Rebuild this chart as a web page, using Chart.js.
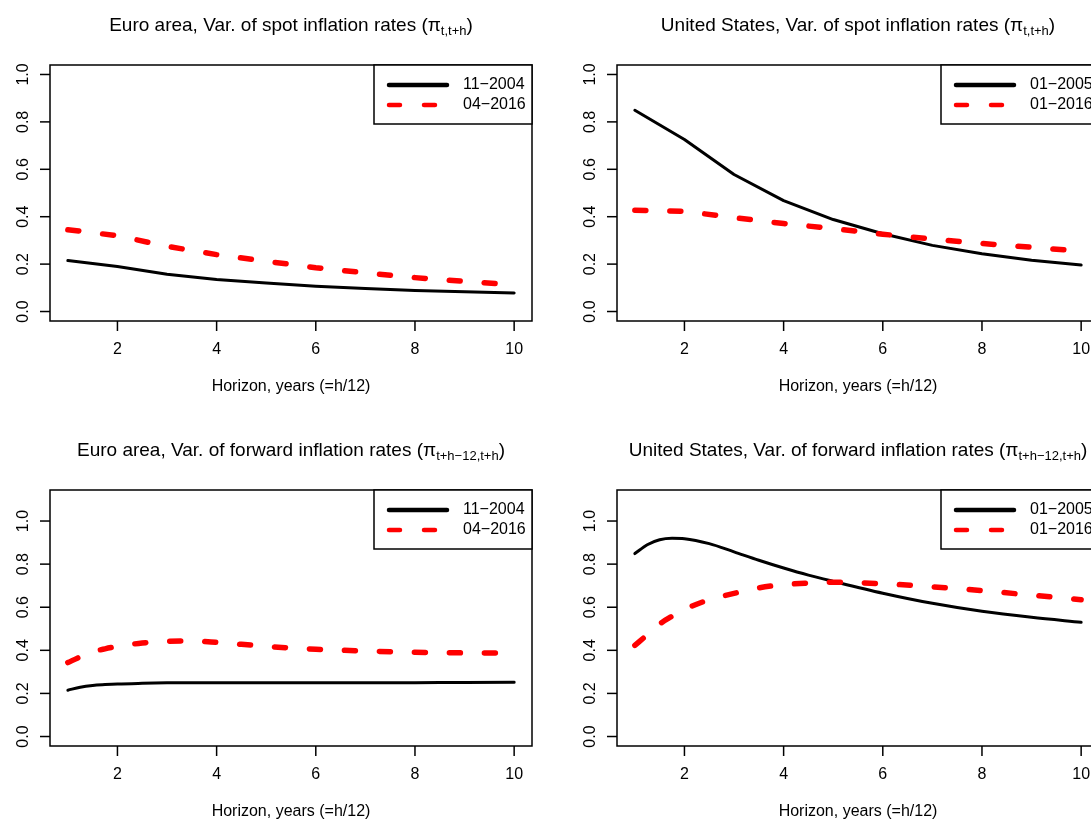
<!DOCTYPE html>
<html>
<head>
<meta charset="utf-8">
<script src="https://cdn.jsdelivr.net/npm/chart.js@4.4.1/dist/chart.umd.min.js"></script>
<style>
  html, body { margin: 0; padding: 0; background: #fff; overflow: hidden; width: 1091px; height: 820px; }
  #wrap { position: relative; width: 1135px; height: 850px; }
  .panel { position: absolute; width: 567px; height: 425px; }
</style>
</head>
<body>
<div id="wrap">
  <div class="panel" style="left:0;top:0"><canvas id="euSpot" width="567" height="425"></canvas></div>
  <div class="panel" style="left:567px;top:0"><canvas id="usSpot" width="567" height="425"></canvas></div>
  <div class="panel" style="left:0;top:425px"><canvas id="euFwd" width="567" height="425"></canvas></div>
  <div class="panel" style="left:567px;top:425px"><canvas id="usFwd" width="567" height="425"></canvas></div>
</div>
<script>
'use strict';

// horizons in years (=h/12)
const yearsSpot = [1, 2, 3, 4, 5, 6, 7, 8, 9, 10];
const yearsFwd = [1, 1.25, 1.5, 1.75, 2, 2.5, 3, 3.5, 4, 4.5, 5, 6, 7, 8, 9, 10];

// variances
const euSpot2004 = [0.215, 0.19, 0.157, 0.135, 0.12, 0.107, 0.097, 0.089, 0.083, 0.078];
const euSpot2016 = [0.345, 0.32, 0.275, 0.24, 0.212, 0.185, 0.163, 0.143, 0.127, 0.113];
const usSpot2005 = [0.849, 0.726, 0.578, 0.468, 0.388, 0.328, 0.279, 0.244, 0.216, 0.196];
const usSpot2016 = [0.427, 0.423, 0.396, 0.371, 0.35, 0.326, 0.306, 0.287, 0.271, 0.255];

const euFwd2004 = [0.215, 0.229, 0.237, 0.241, 0.244, 0.247, 0.249, 0.25, 0.25, 0.25, 0.25, 0.249, 0.249, 0.25, 0.251, 0.252];
const euFwd2016 = [0.343, 0.37, 0.393, 0.407, 0.418, 0.434, 0.442, 0.443, 0.437, 0.428, 0.418, 0.405, 0.397, 0.391, 0.388, 0.387];
const usFwd2005 = [0.849, 0.89, 0.913, 0.92, 0.918, 0.895, 0.857, 0.818, 0.782, 0.749, 0.72, 0.665, 0.618, 0.581, 0.553, 0.53];
const usFwd2016 = [0.423, 0.472, 0.522, 0.558, 0.59, 0.635, 0.664, 0.69, 0.705, 0.712, 0.716, 0.709, 0.695, 0.677, 0.656, 0.635];

const euLabels = ['11\u22122004', '04\u22122016'];
const usLabels = ['01\u22122005', '01\u22122016'];

const xTicks = [2, 4, 6, 8, 10];
const yTicks = [0, 0.2, 0.4, 0.6, 0.8, 1.0];

const xLabel = 'Horizon, years (=h/12)';
const subSpot = 't,t+h';
const subFwd = 't+h\u221212,t+h';

const FONT = '"Liberation Sans", Arial, Helvetica, sans-serif';

function pts(xs, ys) {
  return xs.map((x, i) => ({ x: x, y: ys[i] }));
}

// R-like frame, axes, title and legend
const rFrame = {
  id: 'rFrame',
  afterDraw(chart) {
    const ctx = chart.ctx;
    const a = chart.chartArea;
    const xs = chart.scales.x, ys = chart.scales.y;
    const o = chart.options.plugins.rFrame;
    ctx.save();
    ctx.strokeStyle = '#000';
    ctx.fillStyle = '#000';
    ctx.lineWidth = 1.5;
    ctx.strokeRect(a.left, a.top, a.right - a.left, a.bottom - a.top);

    ctx.font = '16px ' + FONT;
    ctx.textAlign = 'center';
    ctx.textBaseline = 'middle';
    xTicks.forEach(v => {
      const px = xs.getPixelForValue(v);
      ctx.beginPath(); ctx.moveTo(px, a.bottom); ctx.lineTo(px, a.bottom + 10); ctx.stroke();
      ctx.fillText(String(v), px, a.bottom + 29);
    });
    yTicks.forEach(v => {
      const py = ys.getPixelForValue(v);
      ctx.beginPath(); ctx.moveTo(a.left, py); ctx.lineTo(a.left - 10, py); ctx.stroke();
      ctx.save();
      ctx.translate(a.left - 26, py);
      ctx.rotate(-Math.PI / 2);
      ctx.fillText(v.toFixed(1), 0, 0);
      ctx.restore();
    });

    // x axis title
    const cx = (a.left + a.right) / 2;
    ctx.fillText(xLabel, cx, a.bottom + 66);

    // main title with subscript
    const mainFont = '19px ' + FONT, subFont = '13px ' + FONT;
    ctx.font = mainFont;
    const w1 = ctx.measureText(o.title + ' (\u03c0').width;
    const w3 = ctx.measureText(')').width;
    ctx.font = subFont;
    const w2 = ctx.measureText(o.sub).width;
    let tx = cx - (w1 + w2 + w3) / 2;
    ctx.textAlign = 'left';
    ctx.textBaseline = 'alphabetic';
    ctx.font = mainFont;
    ctx.fillText(o.title + ' (\u03c0', tx, 31);
    tx += w1;
    ctx.font = subFont;
    ctx.fillText(o.sub, tx, 35);
    tx += w2;
    ctx.font = mainFont;
    ctx.fillText(')', tx, 31);

    // legend box in the top right corner
    const lx = a.right - 158, lh = 59;
    ctx.lineWidth = 1.5;
    ctx.fillStyle = '#fff';
    ctx.fillRect(lx, a.top, a.right - lx, lh);
    ctx.strokeRect(lx, a.top, a.right - lx, lh);
    ctx.font = '16px ' + FONT;
    ctx.textBaseline = 'middle';
    const sets = chart.data.datasets;
    [0, 1].forEach(i => {
      const ds = sets[i];
      const ly = a.top + 20 + i * 20;
      ctx.save();
      ctx.strokeStyle = ds.borderColor;
      ctx.lineWidth = 4.5;
      ctx.lineCap = 'round';
      ctx.setLineDash(ds.borderDash || []);
      ctx.beginPath(); ctx.moveTo(lx + 15, ly); ctx.lineTo(lx + 73, ly); ctx.stroke();
      ctx.restore();
      ctx.fillStyle = '#000';
      ctx.fillText(ds.label, lx + 89, ly);
    });
    ctx.restore();
  }
};

function makeChart(id, xs, blackY, redY, labels, title, sub, yMax) {
  const ctx = document.getElementById(id).getContext('2d');
  return new Chart(ctx, {
    type: 'line',
    data: {
      datasets: [{
        label: labels[0],
        data: pts(xs, blackY),
        borderColor: '#000000',
        borderWidth: 3,
        borderCapStyle: 'round',
        borderJoinStyle: 'round',
        pointRadius: 0,
        fill: false,
        cubicInterpolationMode: xs.length > 10 ? 'monotone' : 'default',
        tension: 0,
        order: 2
      }, {
        label: labels[1],
        data: pts(xs, redY),
        borderColor: '#ff0000',
        borderWidth: 5.5,
        borderDash: [11, 24],
        borderCapStyle: 'round',
        borderJoinStyle: 'round',
        pointRadius: 0,
        fill: false,
        cubicInterpolationMode: xs.length > 10 ? 'monotone' : 'default',
        tension: 0,
        order: 1
      }]
    },
    options: {
      responsive: false,
      animation: false,
      events: [],
      layout: { padding: { left: 50, right: 35, top: 65, bottom: 104 } },
      scales: {
        x: { type: 'linear', min: 0.64, max: 10.36, display: false },
        y: { type: 'linear', min: -0.04 * yMax, max: 1.04 * yMax, display: false }
      },
      plugins: {
        legend: { display: false },
        tooltip: { enabled: false },
        rFrame: { title: title, sub: sub }
      }
    },
    plugins: [rFrame]
  });
}

makeChart('euSpot', yearsSpot, euSpot2004, euSpot2016, euLabels,
  'Euro area, Var. of spot inflation rates', subSpot, 1.0);
makeChart('usSpot', yearsSpot, usSpot2005, usSpot2016, usLabels,
  'United States, Var. of spot inflation rates', subSpot, 1.0);
makeChart('euFwd', yearsFwd, euFwd2004, euFwd2016, euLabels,
  'Euro area, Var. of forward inflation rates', subFwd, 1.1);
makeChart('usFwd', yearsFwd, usFwd2005, usFwd2016, usLabels,
  'United States, Var. of forward inflation rates', subFwd, 1.1);
</script>
</body>
</html>
